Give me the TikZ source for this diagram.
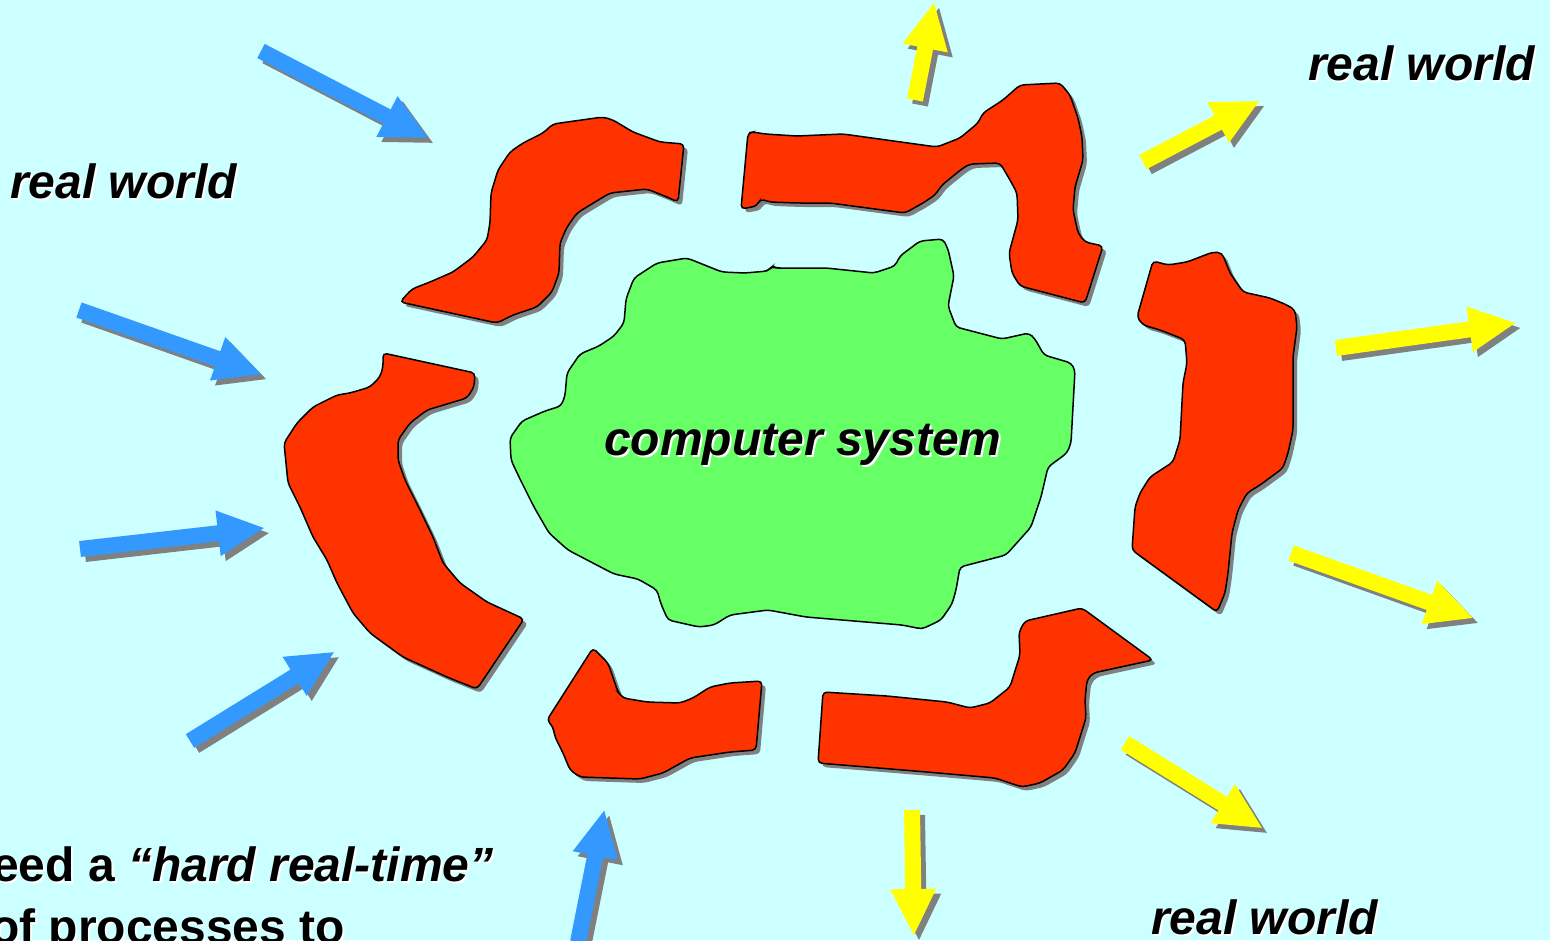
\documentclass[tikz,border=0pt]{standalone}
\usepackage{fontspec}
\setmainfont{Liberation Sans}
\usetikzlibrary{calc}

\definecolor{sky}{HTML}{CCFFFF}
\definecolor{wallred}{HTML}{FF3300}
\definecolor{coregreen}{HTML}{66FF66}
\definecolor{inblue}{HTML}{3399FF}
\definecolor{outyellow}{HTML}{FFFF00}
\definecolor{shadowgray}{HTML}{808080}

\tikzset{
  barrier/.style={fill=wallred, draw=black, line width=1.5, rounded corners=4,
    preaction={fill=shadowgray, transform canvas={shift={(4,4)}}}},
  core/.style={fill=coregreen, draw=black, line width=1.5, rounded corners=4},
  lbl/.style={inner sep=0, font=\fontsize{48}{55}\selectfont\bfseries},
  % block arrow along +x: #1 = length, #2 = fill colour
  pics/blockarrow/.style 2 args={code={
    \fill[#2] (0,-8) -- ({#1-46},-8) -- ({#1-46},-23) -- (#1,0)
      -- ({#1-46},23) -- ({#1-46},8) -- (0,8) -- cycle;
  }},
}

% tail point, direction angle, length, colour (with drop shadow)
\newcommand\signalarrow[4]{%
  \pic[rotate=#2] at ($(#1)+(5,5)$) {blockarrow={#3}{shadowgray}};
  \pic[rotate=#2] at (#1) {blockarrow={#3}{#4}};}

% text with a light embossed edge: name, position, anchor, text
\newcommand\embtext[4]{%
  \node[lbl, text=white, anchor=#3] at ($(#2)+(2,2)$) {#4};
  \node[lbl, anchor=#3] (#1) at (#2) {#4};}

\begin{document}
\begin{tikzpicture}[x=1pt, y=-1pt]
\useasboundingbox (0,0) rectangle (1550,940);
\clip (0,0) rectangle (1550,940);
\fill[sky] (0,0) rectangle (1550,940);

% protective layer around the system
\path[barrier] (400,302) -- (412,289) -- (430,282) -- (453,272) -- (473,257) -- (487,240) -- (490,223) -- (491,193) -- (498,170) -- (510,152) -- (523,143) -- (543,133) -- (553,124) -- (603,117) -- (613,120) -- (633,132) -- (660,142) -- (684,144) -- (678,202) -- (667,197) -- (647,189) -- (610,193) -- (600,199) -- (577,213) -- (567,227) -- (560,243) -- (559,273) -- (552,292) -- (537,307) -- (513,315) -- (497,323) -- cycle;

\path[barrier] (748,133) -- (753,132) -- (765,134) -- (797,136) -- (843,134) -- (937,147) -- (960,138) -- (978,123) -- (983,113) -- (1003,100) -- (1020,85) -- (1060,83) -- (1070,95) -- (1078,118) -- (1082,137) -- (1083,160) -- (1075,187) -- (1073,210) -- (1078,233) -- (1085,242) -- (1103,246) -- (1085,303) -- (1020,286) -- (1012,273) -- (1009,253) -- (1018,220) -- (1017,193) -- (1010,180) -- (1000,163) -- (970,164) -- (963,168) -- (942,185) -- (935,195) -- (923,203) -- (905,213) -- (830,203) -- (797,203) -- (770,202) -- (760,199) -- (757,206) -- (741,209) -- cycle;

\path[barrier] (383,353) -- (475,373) -- (474,387) -- (467,398) -- (447,404) -- (427,410) -- (410,423) -- (398,440) -- (398,460) -- (405,480) -- (420,510) -- (433,537) -- (443,563) -- (460,583) -- (487,602) -- (524,619) -- (477,689) -- (447,677) -- (403,657) -- (370,633) -- (353,613) -- (337,583) -- (327,560) -- (313,537) -- (300,507) -- (288,483) -- (284,443) -- (297,423) -- (313,407) -- (337,395) -- (350,393) -- (370,387) -- (380,377) -- (383,367) -- cycle;

\path[barrier] (1153,261) -- (1168,265) -- (1187,262) -- (1213,252) -- (1222,253) -- (1230,273) -- (1243,292) -- (1270,298) -- (1287,305) -- (1295,310) -- (1297,327) -- (1293,357) -- (1293,430) -- (1288,453) -- (1283,468) -- (1260,485) -- (1247,493) -- (1238,510) -- (1232,533) -- (1228,573) -- (1225,593) -- (1217,612) -- (1132,550) -- (1135,507) -- (1140,493) -- (1150,477) -- (1173,462) -- (1180,440) -- (1183,383) -- (1187,363) -- (1185,340) -- (1178,337) -- (1160,330) -- (1143,325) -- (1137,317) -- cycle;

\path[barrier] (593,648) -- (608,663) -- (618,692) -- (623,698) -- (647,702) -- (680,703) -- (693,698) -- (710,687) -- (730,683) -- (762,681) -- (756,750) -- (730,752) -- (690,758) -- (663,773) -- (640,779) -- (580,777) -- (570,770) -- (563,753) -- (555,737) -- (553,727) -- (547,720) -- cycle;

\path[barrier] (823,692) -- (887,696) -- (947,702) -- (970,708) -- (990,703) -- (1010,687) -- (1020,655) -- (1019,632) -- (1025,621) -- (1082,608) -- (1153,660) -- (1093,673) -- (1087,680) -- (1085,700) -- (1086,718) -- (1075,753) -- (1063,770) -- (1040,783) -- (1022,787) -- (995,778) -- (927,772) -- (818,763) -- cycle;

% the computer system itself
\path[core] (510,438) -- (522,421) -- (545,411) -- (561,406) -- (565,396) -- (567,373) -- (580,354) -- (599,346) -- (614,336) -- (624,323) -- (626,299) -- (634,278) -- (657,263) -- (687,258) -- (722,272) -- (745,273) -- (768,271) -- (772,266) -- (776,268) -- (826,268) -- (874,273) -- (895,266) -- (900,256) -- (920,241) -- (943,239) -- (948,249) -- (954,276) -- (948,306) -- (956,327) -- (1002,339) -- (1029,333) -- (1035,339) -- (1044,355) -- (1071,363) -- (1075,370) -- (1071,443) -- (1067,453) -- (1048,467) -- (1041,497) -- (1031,527) -- (1006,555) -- (960,567) -- (956,590) -- (952,604) -- (941,620) -- (922,629) -- (902,625) -- (806,617) -- (768,610) -- (730,615) -- (714,625) -- (699,627) -- (668,620) -- (661,604) -- (657,590) -- (638,579) -- (614,574) -- (568,550) -- (549,533) -- (534,507) -- (519,477) -- (511,460) -- cycle;

% incoming events
\signalarrow{261,51}{-27.5}{188}{inblue}
\signalarrow{79,310}{-19.4}{193}{inblue}
\signalarrow{80,549}{6.5}{185}{inblue}
\signalarrow{190,741}{31.7}{169}{inblue}
\signalarrow{578,942}{78.7}{134}{inblue}

% outgoing reactions
\signalarrow{915,100}{78.9}{99}{outyellow}
\signalarrow{1143,162}{27.7}{131}{outyellow}
\signalarrow{1336,348}{7.95}{181}{outyellow}
\signalarrow{1291,553}{-19.65}{193}{outyellow}
\signalarrow{1125,743}{-31.8}{161}{outyellow}
\signalarrow{912,810}{-89.1}{125}{outyellow}

% labels
\embtext{worldW}{10,198}{base west}{\itshape real world}
\embtext{worldNE}{1308,80}{base west}{\itshape real world}
\embtext{worldSE}{1151,934}{base west}{\itshape real world}
\embtext{system}{803,455}{base}{\itshape computer system}
\embtext{noteA}{-8,881}{base west}{eed a \textit{“hard real-time”}}
\embtext{noteB}{-10,943}{base west}{of processes to}
\end{tikzpicture}
\end{document}
